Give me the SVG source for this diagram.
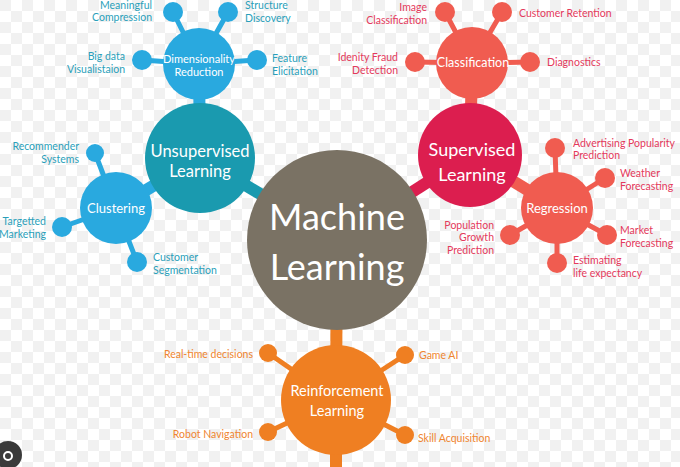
<svg xmlns="http://www.w3.org/2000/svg" width="680" height="467" viewBox="0 0 680 467">
<defs>
<pattern id="chk" width="22" height="22" patternUnits="userSpaceOnUse">
<rect x="0" y="0" width="11" height="11" fill="#f1f1f1"/>
<rect x="11" y="11" width="11" height="11" fill="#f1f1f1"/>
</pattern>
<style>
text{font-family:Lato,"Open Sans","DejaVu Sans",sans-serif}
.w{fill:#fff;text-anchor:middle}
.lb{font-size:10.5px}
.tb{fill:#2a9fba}
.tr{fill:#e43a5c}
.to{fill:#ef8530}
.s{stroke-width:5;stroke-linecap:round;fill:none}
.st{stroke-width:12;fill:none}
.blue{fill:#29a9df}
.sblue{stroke:#29a9df}
.teal{fill:#1a9aaf}
.steal{stroke:#1a9aaf}
.red{fill:#dc1e4f}
.sred{stroke:#dc1e4f}
.coral{fill:#f05c50}
.scoral{stroke:#f05c50}
.or{fill:#ef7f22}
.sor{stroke:#ef7f22}
.e{text-anchor:end}
</style>
</defs>
<rect width="680" height="467" fill="#fff"/>
<rect width="680" height="467" fill="url(#chk)"/>

<g id="connectors">
<line class="st steal" x1="200" y1="158" x2="337" y2="240"/>
<line class="st sred" x1="470" y1="155" x2="337" y2="240"/>
<line class="st sor" x1="337" y1="240" x2="336" y2="400"/>
<line class="st sor" x1="336" y1="400" x2="336" y2="467"/>
<line class="st sblue" x1="199" y1="64" x2="200" y2="158"/>
<line class="st sblue" x1="116" y1="208" x2="200" y2="158"/>
<line class="st scoral" x1="472" y1="63" x2="470" y2="155"/>
<line class="st scoral" x1="557" y1="208" x2="470" y2="155"/>
<line class="s sblue" x1="199" y1="64" x2="173" y2="12"/>
<line class="s sblue" x1="199" y1="64" x2="228" y2="12"/>
<line class="s sblue" x1="199" y1="64" x2="142" y2="60"/>
<line class="s sblue" x1="199" y1="64" x2="257" y2="60"/>
<line class="s sblue" x1="116" y1="208" x2="95" y2="153"/>
<line class="s sblue" x1="116" y1="208" x2="62" y2="227"/>
<line class="s sblue" x1="116" y1="208" x2="137" y2="262"/>
<line class="s scoral" x1="472" y1="63" x2="445" y2="12"/>
<line class="s scoral" x1="472" y1="63" x2="502" y2="12"/>
<line class="s scoral" x1="472" y1="63" x2="415" y2="62"/>
<line class="s scoral" x1="472" y1="63" x2="530" y2="62"/>
<line class="s scoral" x1="557" y1="208" x2="555" y2="148"/>
<line class="s scoral" x1="557" y1="208" x2="605" y2="178"/>
<line class="s scoral" x1="557" y1="208" x2="607" y2="235"/>
<line class="s scoral" x1="557" y1="208" x2="557" y2="263"/>
<line class="s scoral" x1="557" y1="208" x2="510" y2="235"/>
<line class="s sor" x1="336" y1="400" x2="268" y2="353"/>
<line class="s sor" x1="336" y1="400" x2="405" y2="355"/>
<line class="s sor" x1="336" y1="400" x2="268" y2="432"/>
<line class="s sor" x1="336" y1="400" x2="405" y2="435"/>
</g>

<g id="machine-learning">
<circle cx="337" cy="240" r="90" fill="#7a7264"/>
<text class="w" x="337" y="230" font-size="36">Machine</text>
<text class="w" x="337" y="280" font-size="36">Learning</text>
</g>

<g id="unsupervised">
<circle class="teal" cx="200" cy="158" r="55"/>
<text class="w" x="200" y="157" font-size="16.5">Unsupervised</text>
<text class="w" x="200" y="177" font-size="16.5">Learning</text>
</g>

<g id="dimensionality">
<circle class="blue" cx="199" cy="64" r="36"/>
<text class="w" x="199" y="63" font-size="11">Dimensionality</text>
<text class="w" x="199" y="76" font-size="11">Reduction</text>
<circle class="blue" cx="173" cy="12" r="10"/>
<circle class="blue" cx="228" cy="12" r="10"/>
<circle class="blue" cx="142" cy="60" r="10"/>
<circle class="blue" cx="257" cy="60" r="10"/>
<text class="lb tb e" x="152" y="9">Meaningful</text>
<text class="lb tb e" x="152" y="21">Compression</text>
<text class="lb tb" x="245" y="9">Structure</text>
<text class="lb tb" x="245" y="22">Discovery</text>
<text class="lb tb e" x="125" y="60">Big data</text>
<text class="lb tb e" x="125" y="73">Visualistaion</text>
<text class="lb tb" x="272" y="62">Feature</text>
<text class="lb tb" x="272" y="75">Elicitation</text>
</g>

<g id="clustering">
<circle class="blue" cx="116" cy="208" r="36"/>
<text class="w" x="116" y="213" font-size="13">Clustering</text>
<circle class="blue" cx="95" cy="153" r="9"/>
<circle class="blue" cx="62" cy="227" r="10"/>
<circle class="blue" cx="137" cy="262" r="10"/>
<text class="lb tb e" x="79" y="150">Recommender</text>
<text class="lb tb e" x="79" y="163">Systems</text>
<text class="lb tb e" x="46" y="225">Targetted</text>
<text class="lb tb e" x="46" y="238">Marketing</text>
<text class="lb tb" x="153" y="261">Customer</text>
<text class="lb tb" x="153" y="274">Segmentation</text>
</g>

<g id="supervised">
<circle class="red" cx="470" cy="155" r="52"/>
<text class="w" x="472" y="156" font-size="18">Supervised</text>
<text class="w" x="472" y="181" font-size="18">Learning</text>
</g>

<g id="classification">
<circle class="coral" cx="472" cy="63" r="36"/>
<text class="w" x="473" y="67" font-size="12.5">Classification</text>
<circle class="coral" cx="445" cy="12" r="10"/>
<circle class="coral" cx="502" cy="12" r="10"/>
<circle class="coral" cx="415" cy="62" r="10"/>
<circle class="coral" cx="530" cy="62" r="10"/>
<text class="lb tr e" x="427" y="11">Image</text>
<text class="lb tr e" x="427" y="24">Classification</text>
<text class="lb tr" x="519" y="17">Customer Retention</text>
<text class="lb tr e" x="398" y="61">Idenity Fraud</text>
<text class="lb tr e" x="398" y="74">Detection</text>
<text class="lb tr" x="547" y="66">Diagnostics</text>
</g>

<g id="regression">
<circle class="coral" cx="557" cy="208" r="36"/>
<text class="w" x="557" y="213" font-size="13">Regression</text>
<circle class="coral" cx="555" cy="148" r="10"/>
<circle class="coral" cx="605" cy="178" r="10"/>
<circle class="coral" cx="607" cy="235" r="10"/>
<circle class="coral" cx="557" cy="263" r="10"/>
<circle class="coral" cx="510" cy="235" r="10"/>
<text class="lb tr" x="573" y="147">Advertising Popularity</text>
<text class="lb tr" x="573" y="159">Prediction</text>
<text class="lb tr" x="620" y="177">Weather</text>
<text class="lb tr" x="620" y="190">Forecasting</text>
<text class="lb tr" x="620" y="234">Market</text>
<text class="lb tr" x="620" y="247">Forecasting</text>
<text class="lb tr" x="573" y="264">Estimating</text>
<text class="lb tr" x="573" y="277">life expectancy</text>
<text class="lb tr e" x="494" y="229">Population</text>
<text class="lb tr e" x="494" y="241">Growth</text>
<text class="lb tr e" x="494" y="254">Prediction</text>
</g>

<g id="reinforcement">
<circle class="or" cx="336" cy="400" r="55"/>
<text class="w" x="337" y="396" font-size="14.5">Reinforcement</text>
<text class="w" x="337" y="416" font-size="14.5">Learning</text>
<circle class="or" cx="268" cy="353" r="9"/>
<circle class="or" cx="405" cy="355" r="9"/>
<circle class="or" cx="268" cy="432" r="9"/>
<circle class="or" cx="405" cy="435" r="9"/>
<text class="lb to e" x="253" y="358">Real-time decisions</text>
<text class="lb to" x="419" y="359">Game AI</text>
<text class="lb to e" x="253" y="438">Robot Navigation</text>
<text class="lb to" x="418" y="442">Skill Acquisition</text>
</g>

<g id="corner-icon">
<circle cx="8" cy="455" r="14" fill="#3a3a3a"/>
<circle cx="8" cy="456" r="4" fill="none" stroke="#fff" stroke-width="2"/>
</g>
</svg>
